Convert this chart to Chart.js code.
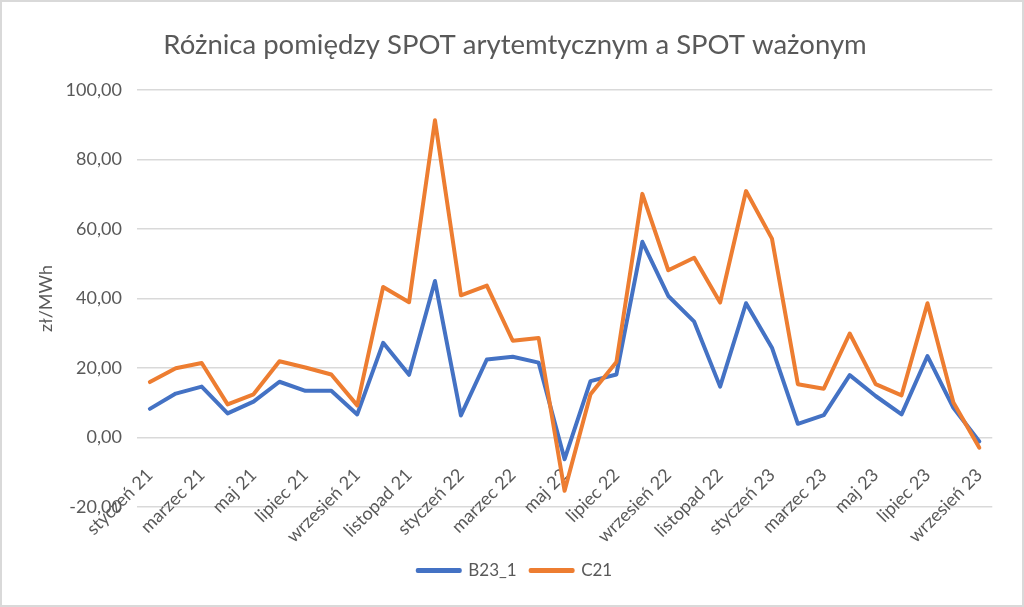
<!DOCTYPE html>
<html>
<head>
<meta charset="utf-8">
<script src="https://cdn.jsdelivr.net/npm/chart.js@4"></script>
<style>
    html, body { margin: 0; padding: 0; background: #fff; }
    .frame {
        position: absolute; left: 0; top: 0;
        width: 1020px; height: 603px;
        border: 2px solid #d9d9d9;
        background: #fff;
    }
</style>
</head>
<body>
<div class="frame">
    <canvas id="spotChart" width="1020" height="603"></canvas>
</div>
<script>
// Months, styczeń 21 .. wrzesień 23
const months = [
    'styczeń 21', 'luty 21', 'marzec 21', 'kwiecień 21', 'maj 21', 'czerwiec 21',
    'lipiec 21', 'sierpień 21', 'wrzesień 21', 'październik 21', 'listopad 21', 'grudzień 21',
    'styczeń 22', 'luty 22', 'marzec 22', 'kwiecień 22', 'maj 22', 'czerwiec 22',
    'lipiec 22', 'sierpień 22', 'wrzesień 22', 'październik 22', 'listopad 22', 'grudzień 22',
    'styczeń 23', 'luty 23', 'marzec 23', 'kwiecień 23', 'maj 23', 'czerwiec 23',
    'lipiec 23', 'sierpień 23', 'wrzesień 23'
];

const b23Values = [
    8.2, 12.6, 14.6, 6.9, 10.3, 16.0, 13.4, 13.4, 6.6, 27.2, 18.0, 45.0,
    6.3, 22.4, 23.2, 21.5, -6.3, 16.2, 18.1, 56.3, 40.7, 33.3, 14.6, 38.6,
    25.8, 3.9, 6.4, 17.9, 11.9, 6.6, 23.4, 8.5, -1.2
];

const c21Values = [
    15.9, 19.9, 21.4, 9.5, 12.4, 21.9, 20.1, 18.1, 9.2, 43.3, 38.9, 91.3,
    40.9, 43.7, 27.8, 28.6, -15.4, 12.4, 21.7, 70.1, 48.1, 51.7, 38.8, 70.9,
    57.2, 15.3, 14.0, 29.9, 15.3, 12.1, 38.6, 10.0, -3.0
];

const yTicks = [-20, 0, 20, 40, 60, 80, 100];

const textColor = '#595959';
const gridColor = '#d9d9d9';
const fontFamily = 'Lato, "Open Sans", sans-serif';

document.addEventListener('DOMContentLoaded', function () {
    const ctx = document.getElementById('spotChart').getContext('2d');

    new Chart(ctx, {
        type: 'line',
        data: {
            labels: months,
            datasets: [{
                label: 'B23_1',
                data: b23Values,
                borderColor: '#4472C4',
                backgroundColor: '#4472C4',
                borderWidth: 4,
                pointRadius: 0,
                tension: 0,
                borderJoinStyle: 'round',
                borderCapStyle: 'round',
                order: 1
            }, {
                label: 'C21',
                data: c21Values,
                borderColor: '#ED7D31',
                backgroundColor: '#ED7D31',
                borderWidth: 4,
                pointRadius: 0,
                tension: 0,
                borderJoinStyle: 'round',
                borderCapStyle: 'round',
                order: 0
            }]
        },
        options: {
            responsive: false,
            animation: false,
            layout: {
                padding: { left: 33, right: 27, top: 4, bottom: 16 }
            },
            plugins: {
                title: {
                    display: true,
                    text: 'Różnica pomiędzy SPOT arytemtycznym a SPOT ważonym',
                    color: textColor,
                    font: { family: fontFamily, size: 27.5, weight: 'normal' },
                    padding: { top: 23, bottom: 28 }
                },
                legend: {
                    position: 'bottom',
                    // empty title only keeps room for the hanging month labels
                    title: {
                        display: true,
                        text: ' ',
                        font: { family: fontFamily, size: 16 },
                        padding: { top: 0, bottom: 22 }
                    },
                    labels: {
                        color: textColor,
                        font: { family: fontFamily, size: 17 },
                        boxWidth: 42,
                        boxHeight: 1,
                        padding: 14,
                        sort: (a, b) => a.datasetIndex - b.datasetIndex
                    }
                },
                tooltip: { enabled: false }
            },
            scales: {
                x: {
                    // labels hang from the zero line, as in the spreadsheet
                    position: { y: 0 },
                    offset: true,
                    grid: { display: false, drawTicks: false },
                    border: { display: false },
                    ticks: {
                        color: textColor,
                        font: { family: fontFamily, size: 18 },
                        autoSkip: false,
                        maxRotation: 45,
                        minRotation: 45,
                        padding: 27,
                        callback: function (value, index) {
                            return index % 2 === 0 ? months[index] : '';
                        }
                    }
                },
                y: {
                    min: yTicks[0],
                    max: yTicks[yTicks.length - 1],
                    afterBuildTicks: (axis) => {
                        axis.ticks = yTicks.map(v => ({ value: v }));
                    },
                    grid: { color: gridColor, lineWidth: 1.5, drawTicks: false },
                    border: { display: false },
                    ticks: {
                        color: textColor,
                        font: { family: fontFamily, size: 18 },
                        padding: 15,
                        callback: (v) => v.toFixed(2).replace('.', ',')
                    },
                    title: {
                        display: true,
                        text: 'zł/MWh',
                        color: textColor,
                        font: { family: fontFamily, size: 18 },
                        padding: { top: 0, bottom: -6 }
                    }
                }
            }
        }
    });
});
</script>
</body>
</html>
